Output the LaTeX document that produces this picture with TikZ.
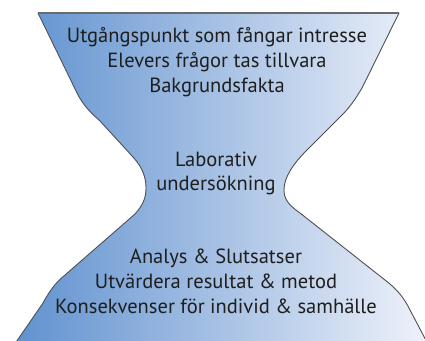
\documentclass[tikz,border=0pt]{standalone}
\usepackage{fontspec}
\setmainfont{PT Sans}
\definecolor{bl}{RGB}{95,145,207}
\definecolor{wh}{RGB}{240,242,250}
\definecolor{edge}{RGB}{80,80,80}
\definecolor{txt}{RGB}{30,30,30}
\begin{document}
\begin{tikzpicture}[x=1bp,y=-1bp,
  lab/.style={anchor=base,inner sep=0pt,text=txt,font=\fontsize{20.6}{24}\selectfont}]
\useasboundingbox (0,0) rectangle (425,341);
\begin{scope}
\clip (0,0) rectangle (425,341);
\path[left color=bl,right color=wh,draw=edge,line width=0.9bp,line join=round]
  (38,13) -- (78,95) .. controls (84,106) and (90,112) .. (100,121)
  -- (133,157) .. controls (143,168) and (146,178) .. (146,188)
  .. controls (146,198) and (143,205) .. (135,214)
  -- (65,275) .. controls (55,283) and (49,292) .. (43,303)
  -- (12,348) -- (430,348)
  -- (410,310) .. controls (404,298) and (398,290) .. (385,280)
  -- (300,213) .. controls (290,206) and (284,200) .. (284,190)
  .. controls (284,178) and (292,165) .. (307,150)
  -- (345,112) .. controls (352,104) and (356,98) .. (362,88)
  -- (399,13) -- cycle;
\end{scope}
\draw[edge!85,line width=1.6bp] (38,13) -- (399,13);
\node[lab] (t1) at (217,42) {Utgångspunkt som fångar intresse};
\node[lab] (t2) at (217,67) {Elevers frågor tas tillvara};
\node[lab] (t3) at (217,92) {Bakgrundsfakta};
\node[lab] (m1) at (216,166) {Laborativ};
\node[lab] (m2) at (216,190) {undersökning};
\node[lab] (b1) at (216,263) {Analys \& Slutsatser};
\node[lab] (b2) at (216,288) {Utvärdera resultat \& metod};
\node[lab] (b3) at (216,313) {Konsekvenser för individ \& samhälle};
\end{tikzpicture}
\end{document}
